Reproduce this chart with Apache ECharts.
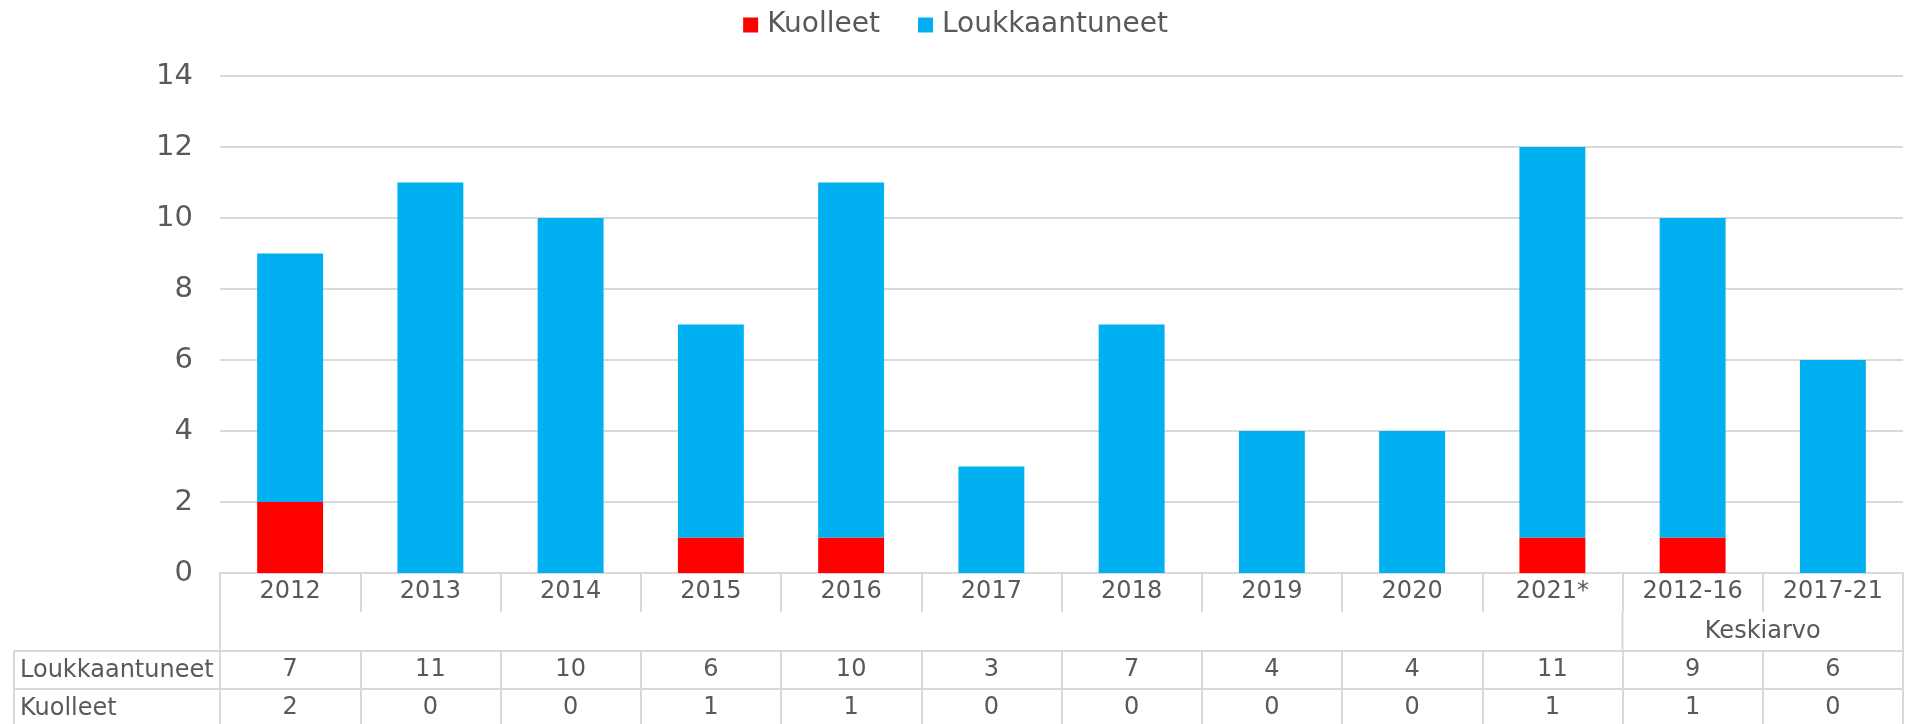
<!DOCTYPE html>
<html>
<head>
<meta charset="utf-8">
<script src="https://cdn.jsdelivr.net/npm/echarts@6/dist/echarts.min.js"></script>
<style>
  html, body { margin: 0; padding: 0; background: #fff; }
  #chart { width: 1911px; height: 724px; }
</style>
</head>
<body>
<div id="chart"></div>
<script>
// data
const categories = ['2012', '2013', '2014', '2015', '2016', '2017', '2018', '2019', '2020', '2021*', '2012-16', '2017-21'];
const kuolleet = [2, 0, 0, 1, 1, 0, 0, 0, 0, 1, 1, 0];
const loukkaantuneet = [7, 11, 10, 6, 10, 3, 7, 4, 4, 11, 9, 6];
const groupName = 'Keskiarvo';
const groupStart = 10; // first averaged category
const seriesNames = ['Kuolleet', 'Loukkaantuneet'];
const yMin = 0;
const yMax = 14;
const yStep = 2;

const FONT = 'DejaVu Sans';
const TEXT = '#595959';
const LINE = '#D9D9D9';
const ROW_H = 39; // table row height

const myChart = echarts.init(document.getElementById('chart'));

// one extra x axis per table row, drawn below the plot
const rowAxis = (values, offset) => ({
  type: 'category',
  position: 'bottom',
  offset,
  data: values.map(String),
  axisLine: { show: true, lineStyle: { color: LINE, width: 2 } },
  axisTick: { show: true, interval: 0, length: ROW_H, lineStyle: { color: LINE, width: 2 } },
  axisLabel: { interval: 0, margin: 7, color: TEXT, fontSize: 24, fontFamily: FONT },
  splitLine: { show: false },
});

const option = {
  animation: false,
  textStyle: { fontFamily: FONT },
  legend: {
    data: seriesNames,
    top: 6,
    left: 'center',
    itemWidth: 15,
    itemHeight: 15,
    itemGap: 38,
    icon: 'rect',
    textStyle: { color: TEXT, fontSize: 28, fontFamily: FONT, padding: [0, 0, 0, 4] },
  },
  grid: {
    left: 220,
    right: 8,
    top: 76,
    bottom: 151,
    containLabel: false,
    outerBoundsMode: 'none',
  },
  xAxis: [
    {
      type: 'category',
      position: 'bottom',
      data: categories,
      axisLine: { show: true, lineStyle: { color: LINE, width: 2 } },
      axisTick: { show: true, interval: 0, length: ROW_H, lineStyle: { color: LINE, width: 2 } },
      axisLabel: { interval: 0, margin: 7, color: TEXT, fontSize: 24, fontFamily: FONT },
    },
    rowAxis(loukkaantuneet, ROW_H * 2),
    rowAxis(kuolleet, ROW_H * 3 - 1),
  ],
  yAxis: {
    type: 'value',
    min: yMin,
    max: yMax,
    interval: yStep,
    axisLine: { show: false },
    axisTick: { show: false },
    axisLabel: { margin: 27, color: TEXT, fontSize: 29, fontFamily: FONT },
    splitLine: { lineStyle: { color: LINE, width: 2 } },
  },
  series: [
    {
      name: seriesNames[0],
      type: 'bar',
      stack: 'total',
      xAxisIndex: 0,
      barWidth: '47%',
      itemStyle: { color: '#FF0000' },
      data: kuolleet,
    },
    {
      name: seriesNames[1],
      type: 'bar',
      stack: 'total',
      xAxisIndex: 0,
      barWidth: '47%',
      itemStyle: { color: '#00B0F0' },
      data: loukkaantuneet,
    },
  ],
};
myChart.setOption(option);

// rest of the table: group row and row titles
const cx = i => myChart.convertToPixel({ xAxisIndex: 0 }, i);
const band = cx(1) - cx(0);
const edge = i => cx(0) + band * (i - 0.5);
const y0 = myChart.convertToPixel({ yAxisIndex: 0 }, 0);
const tableLeft = 14;
const lineStyle = { stroke: LINE, lineWidth: 2 };
const vLine = (x, ya, yb) => ({ type: 'line', shape: { x1: x, y1: ya, x2: x, y2: yb }, style: lineStyle, silent: true });
const hLine = (xa, xb, y) => ({ type: 'line', shape: { x1: xa, y1: y, x2: xb, y2: y }, style: lineStyle, silent: true });
const label = (txt, x, y, align) => ({
  type: 'text', x, y, silent: true,
  style: { text: txt, fill: TEXT, font: '24px "' + FONT + '"', align, verticalAlign: 'middle' },
});

const rowTop = k => y0 + ROW_H * k;
const elements = [
  // group row borders
  vLine(edge(0), rowTop(1), rowTop(2)),
  vLine(edge(groupStart), rowTop(1), rowTop(2)),
  vLine(edge(categories.length), rowTop(1), rowTop(2)),
  label(groupName, (edge(groupStart) + edge(categories.length)) / 2, rowTop(1) + ROW_H / 2, 'center'),
  // row title cells
  hLine(tableLeft, edge(0), rowTop(2)),
  hLine(tableLeft, edge(0), rowTop(3) - 1),
  vLine(tableLeft, rowTop(2), rowTop(4)),
  label(seriesNames[1], tableLeft + 6, rowTop(2) + ROW_H / 2, 'left'),
  label(seriesNames[0], tableLeft + 6, rowTop(3) + ROW_H / 2 - 1, 'left'),
];
myChart.setOption({ graphic: { elements } });
</script>
</body>
</html>
